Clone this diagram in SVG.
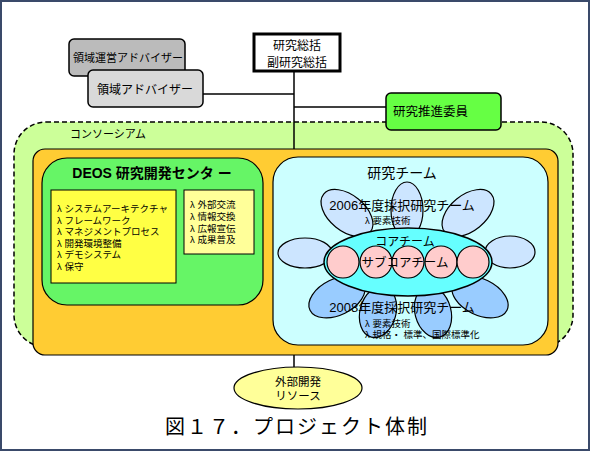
<svg xmlns="http://www.w3.org/2000/svg" width="591" height="452" viewBox="0 0 591 452">
<style>
text{font-family:"Liberation Sans","Noto Sans CJK JP",sans-serif;fill:#000}
.j{font-family:"Noto Sans CJK JP","Liberation Sans",sans-serif}
.c{text-anchor:middle}
.ln{stroke:#000;stroke-width:1.5;fill:none}
.pl{fill:#CCE5FF;stroke:#000;stroke-width:1.2}
.pd{fill:#99CCFF;stroke:#000;stroke-width:1.2}
.ci{fill:#FFCCCC;stroke:#000;stroke-width:1.2}
.li{font-size:9.5px}
</style>
<rect x="0" y="0" width="591" height="452" fill="#fff"/>
<rect x="1" y="1" width="588" height="449" fill="none" stroke="#3A4A6A" stroke-width="2"/>

<g id="consortium">
<rect x="14" y="122" width="559" height="225" rx="32" fill="#CCFF99" stroke="#000" stroke-width="1.5" stroke-dasharray="5 3"/>
<text x="70" y="138" class="j" font-size="11">コンソーシアム</text>
</g>

<g id="connectors">
<line class="ln" x1="294" y1="72" x2="294" y2="150"/>
<line class="ln" x1="203" y1="94" x2="294" y2="94"/>
<line class="ln" x1="294" y1="107" x2="386" y2="107"/>
<line class="ln" x1="294" y1="355" x2="294" y2="367"/>
</g>

<g id="orange">
<rect x="33" y="149" width="525" height="206" rx="12" fill="#FFCC33" stroke="#000" stroke-width="1.2"/>
</g>

<g id="deos">
<rect x="42" y="158" width="221" height="147" rx="25" fill="#66F566" stroke="#000" stroke-width="1.2"/>
<text x="152" y="178" class="c" font-size="14" font-weight="bold">DEOS 研究開発センタ ー</text>
<rect x="51" y="190" width="125" height="93" fill="#FFFF44" stroke="#000" stroke-width="1"/>
<g class="li">
<text x="57" y="212">λ システムアーキテクチャ</text>
<text x="57" y="223.5">λ フレームワーク</text>
<text x="57" y="235">λ マネジメントプロセス</text>
<text x="57" y="246.5">λ 開発環境整備</text>
<text x="57" y="258">λ デモシステム</text>
<text x="57" y="269.5">λ 保守</text>
</g>
<rect x="184" y="190" width="70" height="64" fill="#FFFF99" stroke="#000" stroke-width="1"/>
<g class="li">
<text x="190" y="208">λ 外部交流</text>
<text x="190" y="220">λ 情報交換</text>
<text x="190" y="231.5">λ 広報宣伝</text>
<text x="190" y="243">λ 成果普及</text>
</g>
</g>

<g id="research-team">
<rect x="273" y="157" width="275" height="188" rx="25" fill="#CCFFFF" stroke="#000" stroke-width="1.2"/>
<text x="402" y="178" class="c j" font-size="14">研究チーム</text>
<g id="petals">
<ellipse class="pl" cx="407" cy="210" rx="16" ry="28"/>
<ellipse class="pl" cx="347" cy="213" rx="30" ry="18" transform="rotate(39 347 213)"/>
<ellipse class="pl" cx="468" cy="213" rx="30" ry="18" transform="rotate(-39 468 213)"/>
<ellipse class="pl" cx="305" cy="253" rx="27" ry="15"/>
<ellipse class="pl" cx="510" cy="252" rx="25" ry="16"/>
<ellipse class="pd" cx="337" cy="297" rx="30" ry="18" transform="rotate(-26 337 297)"/>
<ellipse class="pd" cx="480" cy="297" rx="30" ry="18" transform="rotate(26 480 297)"/>
<ellipse class="pd" cx="378" cy="312" rx="18" ry="26" transform="rotate(15 378 312)"/>
<ellipse class="pd" cx="433" cy="312" rx="18" ry="26" transform="rotate(-15 433 312)"/>
</g>
<ellipse cx="408" cy="262" rx="84" ry="34" fill="#66FFFF" stroke="#000" stroke-width="1.5"/>
<circle class="ci" cx="343" cy="262" r="16"/>
<circle class="ci" cx="376" cy="262" r="16"/>
<circle class="ci" cx="408" cy="262" r="16"/>
<circle class="ci" cx="441" cy="262" r="16"/>
<circle class="ci" cx="473" cy="262" r="16"/>
<text x="402" y="210" class="c" font-size="13">2006年度採択研究チーム</text>
<text x="365" y="223.5" class="li">λ 要素技術</text>
<text x="405" y="246" class="c j" font-size="12">コアチーム</text>
<text x="405" y="266.5" class="c j" font-size="12.5">サブコアチーム</text>
<text x="402" y="312" class="c" font-size="13">2008年度採択研究チーム</text>
<text x="365" y="326.5" class="li">λ 要素技術</text>
<text x="365" y="337.5" class="li">λ 規格・ 標準、国際標準化</text>
</g>

<g id="supervisor">
<rect x="254" y="34" width="86" height="37" fill="#fff" stroke="#000" stroke-width="3"/>
<text x="297" y="50" class="c j" font-size="12">研究総括</text>
<text x="297" y="67" class="c j" font-size="12">副研究総括</text>
</g>

<g id="promotion-committee">
<rect x="386" y="93" width="115" height="37" rx="5" fill="#66FF44" stroke="#000" stroke-width="1.5"/>
<text x="393" y="115.5" class="j" font-size="12.5">研究推進委員</text>
</g>

<g id="mgmt-advisor">
<rect x="69" y="39" width="116" height="37" rx="5" fill="#BBBBBB" stroke="#000" stroke-width="1.5"/>
<text x="73" y="62" class="j" font-size="11">領域運営アドバイザー</text>
</g>

<g id="advisor">
<rect x="88" y="70" width="115" height="37" rx="5" fill="#D9D9D9" stroke="#000" stroke-width="1.5"/>
<text x="145" y="93.5" class="c j" font-size="12">領域アドバイザー</text>
</g>

<g id="external">
<ellipse cx="298" cy="388" rx="64" ry="21" fill="#FFFF99" stroke="#000" stroke-width="1.2"/>
<text x="298" y="385.5" class="c" font-size="11.5">外部開発</text>
<text x="298" y="400" class="c" font-size="11.5">リソース</text>
</g>

<text x="165" y="434" font-size="20" textLength="262" lengthAdjust="spacing" style="font-family:'Liberation Serif','Noto Sans CJK JP',serif">図１７．プロジェクト体制</text>
</svg>
